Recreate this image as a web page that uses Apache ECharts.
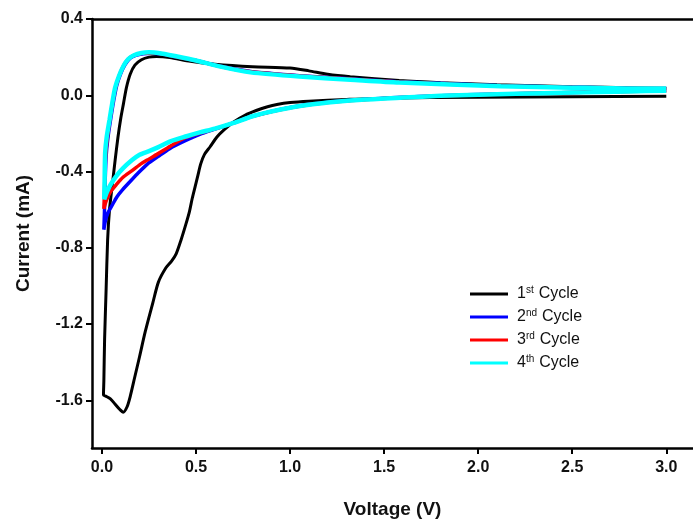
<!DOCTYPE html>
<html>
<head>
<meta charset="utf-8">
<title>CV cycles</title>
<script src="https://cdn.jsdelivr.net/npm/echarts@6.0.0/dist/echarts.min.js"></script>
<style>
  html, body { margin: 0; padding: 0; background: #fff; }
  #chart { width: 693px; height: 521px; }
</style>
</head>
<body>
<div id="chart"></div>
<script>
  // tick labels
  var xTicks = [0, 0.5, 1.0, 1.5, 2.0, 2.5, 3.0];
  var yTicks = [-1.6, -1.2, -0.8, -0.4, 0, 0.4];

  var names = ['1st Cycle', '2nd Cycle', '3rd Cycle', '4th Cycle'];
  var colors = ['#000000', '#0000ff', '#ff0000', '#00ffff'];

  // [voltage V, current mA], scan from 3.0 V down then back up
  var cycle1 = [
    [3.0,-0.005],[2.5,-0.008],[2.0,-0.01],[1.5,-0.015],[1.3,-0.022],[1.1,-0.031],[1.0,-0.038],
    [0.93,-0.048],[0.88,-0.06],[0.82,-0.08],[0.76,-0.105],[0.70,-0.14],[0.65,-0.18],[0.61,-0.22],
    [0.575,-0.27],[0.545,-0.31],[0.525,-0.36],[0.51,-0.42],[0.495,-0.48],[0.48,-0.54],[0.465,-0.61],
    [0.445,-0.68],[0.42,-0.76],[0.395,-0.83],[0.37,-0.87],[0.34,-0.905],[0.30,-0.98],[0.27,-1.09],
    [0.23,-1.24],[0.20,-1.37],[0.175,-1.475],[0.15,-1.58],[0.133,-1.635],[0.113,-1.662],[0.095,-1.648],
    [0.07,-1.62],[0.045,-1.592],[0.02,-1.578],[0.008,-1.572],
    [0.01,-1.50],[0.014,-1.28],[0.022,-1.02],[0.03,-0.76],[0.04,-0.6],[0.055,-0.47],[0.07,-0.34],
    [0.085,-0.22],[0.1,-0.12],[0.115,-0.04],[0.13,0.04],[0.15,0.11],[0.175,0.158],[0.21,0.186],
    [0.25,0.2],[0.29,0.203],[0.36,0.198],[0.47,0.178],[0.6,0.163],[0.8,0.15],[1.0,0.143],[1.1,0.128],
    [1.2,0.11],[1.32,0.097],[1.58,0.077],[1.8,0.066],[2.1,0.055],[2.5,0.045],[2.85,0.038],[3.0,0.035]
  ];
  var cycle2 = [
    [3.0,0.025],[2.5,0.015],[2.0,0.004],[1.6,-0.011],[1.2,-0.037],[1.0,-0.064],[0.8,-0.11],
    [0.7,-0.145],[0.6,-0.178],[0.52,-0.205],[0.44,-0.24],[0.36,-0.28],[0.3,-0.32],[0.24,-0.362],
    [0.19,-0.41],[0.15,-0.452],[0.11,-0.495],[0.08,-0.532],[0.055,-0.575],[0.032,-0.616],
    [0.018,-0.66],[0.01,-0.705],
    [0.013,-0.62],[0.017,-0.45],[0.022,-0.32],[0.032,-0.22],[0.047,-0.12],[0.062,-0.03],
    [0.078,0.05],[0.098,0.11],[0.122,0.16],[0.15,0.195],[0.18,0.21],[0.22,0.218],[0.26,0.22],
    [0.31,0.217],[0.4,0.2],[0.5,0.182],[0.63,0.152],[0.79,0.125],[1.05,0.103],[1.32,0.087],
    [1.58,0.071],[2.12,0.05],[2.5,0.042],[2.86,0.036],[3.0,0.035]
  ];
  var cycle3 = [
    [3.0,0.024],[2.5,0.014],[2.0,0.003],[1.6,-0.012],[1.2,-0.038],[1.0,-0.065],[0.8,-0.11],
    [0.7,-0.145],[0.6,-0.176],[0.52,-0.198],[0.45,-0.22],[0.4,-0.245],[0.346,-0.278],[0.292,-0.31],
    [0.24,-0.34],[0.2,-0.365],[0.16,-0.395],[0.112,-0.43],[0.075,-0.47],[0.043,-0.51],
    [0.022,-0.555],[0.01,-0.595],
    [0.013,-0.52],[0.016,-0.4],[0.021,-0.3],[0.03,-0.21],[0.045,-0.11],[0.06,-0.02],
    [0.076,0.055],[0.096,0.115],[0.12,0.165],[0.148,0.198],[0.18,0.213],[0.22,0.22],[0.26,0.222],
    [0.31,0.219],[0.4,0.201],[0.5,0.182],[0.63,0.151],[0.79,0.123],[1.05,0.101],[1.32,0.085],
    [1.58,0.069],[2.12,0.048],[2.5,0.041],[2.86,0.035],[3.0,0.035]
  ];
  var cycle4 = [
    [3.0,0.024],[2.8,0.02],[2.5,0.014],[2.2,0.008],[2.0,0.003],[1.8,-0.003],[1.6,-0.012],
    [1.4,-0.022],[1.2,-0.038],[1.1,-0.05],[1.0,-0.065],[0.9,-0.085],[0.8,-0.11],[0.7,-0.145],
    [0.6,-0.175],[0.52,-0.195],[0.45,-0.215],[0.36,-0.243],[0.3,-0.272],[0.25,-0.293],
    [0.2,-0.312],[0.16,-0.34],[0.11,-0.385],[0.075,-0.425],[0.045,-0.47],[0.025,-0.51],[0.012,-0.545],
    [0.014,-0.45],[0.017,-0.3],[0.025,-0.22],[0.04,-0.13],[0.055,-0.04],[0.07,0.04],[0.09,0.1],
    [0.115,0.155],[0.14,0.19],[0.17,0.21],[0.21,0.222],[0.25,0.225],[0.3,0.222],[0.4,0.203],
    [0.5,0.182],[0.63,0.15],[0.79,0.12],[1.05,0.098],[1.32,0.082],[1.58,0.067],[2.12,0.047],
    [2.5,0.04],[2.86,0.035],[3.0,0.035]
  ];
  var cycles = [cycle1, cycle2, cycle3, cycle4];
  var widths = [3, 3.5, 3.5, 4.5];

  var font = '"Liberation Sans", Arial, sans-serif';

  function legendText(name) {
    var m = name.match(/^(\d)(\w+) (.*)$/);
    return '{f|' + m[1] + '}{s|' + m[2] + '}{n|' + m[3] + '}';
  }

  var charts = echarts.init(document.getElementById('chart'));
  charts.setOption({
    animation: false,
    color: colors,
    textStyle: { fontFamily: font },
    grid: { left: 92, top: 19, right: 0, bottom: 73, outerBoundsMode: 'none', containLabel: false },
    legend: {
      orient: 'vertical',
      left: 470,
      top: 285,
      padding: 0,
      icon: 'rect',
      itemWidth: 38,
      itemHeight: 3,
      itemGap: 6,
      data: names,
      formatter: legendText,
      textStyle: {
        rich: {
          f: { fontSize: 16, lineHeight: 18, color: '#111', fontFamily: font, padding: [0, 0, 0, 4] },
          n: { fontSize: 16, lineHeight: 18, color: '#111', fontFamily: font, padding: [0, 0, 0, 5] },
          s: { fontSize: 10, lineHeight: 10, color: '#111', fontFamily: font, verticalAlign: 'top' }
        }
      }
    },
    xAxis: [{
      type: 'value',
      min: -0.053,
      max: 3.142,
      name: 'Voltage (V)',
      nameLocation: 'middle',
      nameGap: 52,
      nameTextStyle: { fontSize: 19, fontWeight: 'bold', color: '#111', fontFamily: font },
      splitLine: { show: false },
      axisLine: { onZero: false, lineStyle: { color: '#000', width: 2.5 } },
      axisTick: { customValues: xTicks, length: 6, lineStyle: { color: '#000', width: 2 } },
      axisLabel: {
        customValues: xTicks,
        margin: 12,
        fontSize: 16,
        fontWeight: 'bold',
        color: '#111',
        fontFamily: font,
        formatter: function (v) { return v.toFixed(1); }
      }
    }, {
      type: 'value',
      position: 'top',
      min: -0.053,
      max: 3.142,
      splitLine: { show: false },
      axisLine: { onZero: false, lineStyle: { color: '#000', width: 2.5 } },
      axisTick: { show: false },
      axisLabel: { show: false }
    }],
    yAxis: {
      type: 'value',
      min: -1.85,
      max: 0.4,
      name: 'Current (mA)',
      nameLocation: 'middle',
      nameGap: 59,
      nameTextStyle: { fontSize: 19, fontWeight: 'bold', color: '#111', fontFamily: font },
      splitLine: { show: false },
      axisLine: { onZero: false, lineStyle: { color: '#000', width: 2.5 } },
      axisTick: { customValues: yTicks, length: 6, lineStyle: { color: '#000', width: 2 } },
      axisLabel: {
        customValues: yTicks,
        margin: 9,
        fontSize: 16,
        fontWeight: 'bold',
        color: '#111',
        fontFamily: font,
        formatter: function (v) { return v.toFixed(1); }
      }
    },
    series: cycles.map(function (d, i) {
      return {
        name: names[i],
        type: 'line',
        data: d,
        showSymbol: false,
        symbol: 'none',
        smooth: 0.25,
        clip: true,
        lineStyle: { width: widths[i], color: colors[i] },
        z: 2 + i
      };
    })
  });
</script>
</body>
</html>
